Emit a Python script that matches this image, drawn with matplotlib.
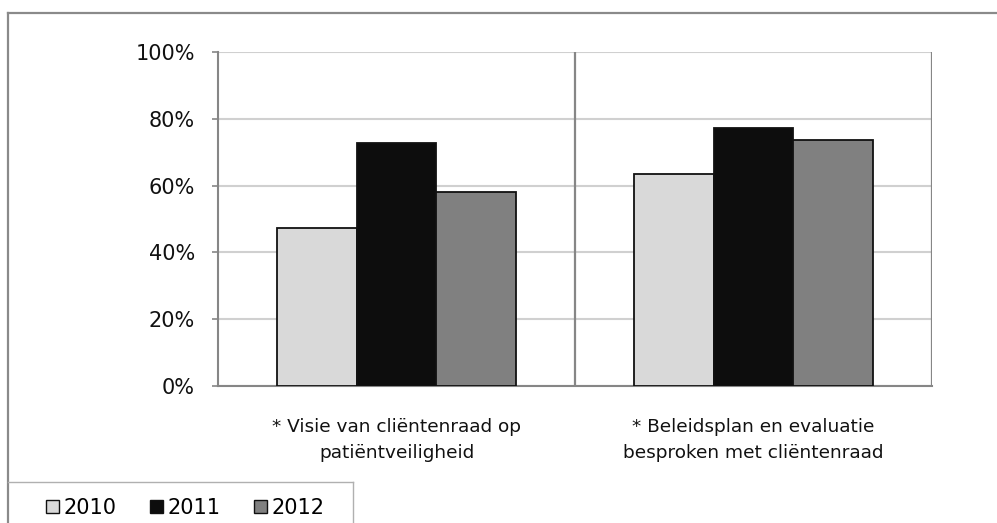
import matplotlib
matplotlib.use("Agg")
import matplotlib.pyplot as plt
from matplotlib.patches import Patch
from matplotlib.lines import Line2D
import numpy as np

categories = ["* Visie van cliëntenraad op\npatiëntveiligheid",
              "* Beleidsplan en evaluatie\nbesproken met cliëntenraad"]
series_names = ["2010", "2011", "2012"]
values_2010 = [47.3, 63.5]
values_2011 = [72.7, 77.3]
values_2012 = [58.0, 73.7]
y_ticks = [0, 20, 40, 60, 80, 100]
y_tick_labels = ["0%", "20%", "40%", "60%", "80%", "100%"]

colors = ["#d9d9d9", "#0d0d0d", "#808080"]
axis_grey = "#868686"
grid_grey = "#d0d0d0"
FS = 13.3
FS_NUM = 15

W, H = 997, 523
fig = plt.figure(figsize=(W / 100, H / 100), dpi=100)
ax = fig.add_axes([218 / W, (H - 386) / H, (932 - 218) / W, (386 - 52) / H])

x = np.arange(len(categories))
bw = 0.2227
all_vals = [values_2010, values_2011, values_2012]
for i, (vals, c) in enumerate(zip(all_vals, colors)):
    ax.bar(x + (i - 1) * bw, vals, width=bw, color=c, edgecolor="#111111",
           linewidth=1.3, zorder=3)

ax.set_xlim(-0.5, len(categories) - 0.5)
ax.set_ylim(0, 100)
ax.set_yticks(y_ticks)
ax.set_yticklabels(y_tick_labels, fontsize=FS_NUM, color="#111111")
ax.yaxis.grid(True, color=grid_grey, linewidth=1.5, zorder=0)
ax.set_axisbelow(True)
for xv in np.arange(0.5, len(categories), 1.0):
    ax.axvline(xv, color=axis_grey, linewidth=1.6, zorder=1)

ax.set_xticks(x)
ax.set_xticklabels(categories, fontsize=FS, color="#111111", linespacing=1.55)
ax.tick_params(axis="x", length=0, pad=23)
ax.tick_params(axis="y", length=4.5, width=1.2, color=axis_grey, pad=12)

for s in ["top", "right"]:
    ax.spines[s].set_visible(False)
for s in ["left", "bottom"]:
    ax.spines[s].set_color(axis_grey)
    ax.spines[s].set_linewidth(1.5)

# outer chart frame
fig.add_artist(Line2D([8 / W, 1.0], [(H - 13) / H, (H - 13) / H],
                      transform=fig.transFigure, color="#8a8a8a", linewidth=1.6))
fig.add_artist(Line2D([8 / W, 8 / W], [0, (H - 13) / H],
                      transform=fig.transFigure, color="#8a8a8a", linewidth=1.6))
# legend box
fig.add_artist(Line2D([8 / W, 353 / W], [(H - 482) / H, (H - 482) / H],
                      transform=fig.transFigure, color="#b0b0b0", linewidth=1.0))
fig.add_artist(Line2D([353 / W, 353 / W], [0, (H - 482) / H],
                      transform=fig.transFigure, color="#b0b0b0", linewidth=1.0))

handles = [Patch(facecolor=c, edgecolor="#111111", linewidth=1.0) for c in colors]
fig.legend(handles, series_names, loc="center left",
           bbox_to_anchor=(46 / W, (H - 508) / H), ncol=3, frameon=False,
           fontsize=FS_NUM, handlelength=0.6, handleheight=0.6,
           handletextpad=0.25, columnspacing=1.6, borderpad=0, borderaxespad=0)

fig.savefig("out.png", dpi=100)
